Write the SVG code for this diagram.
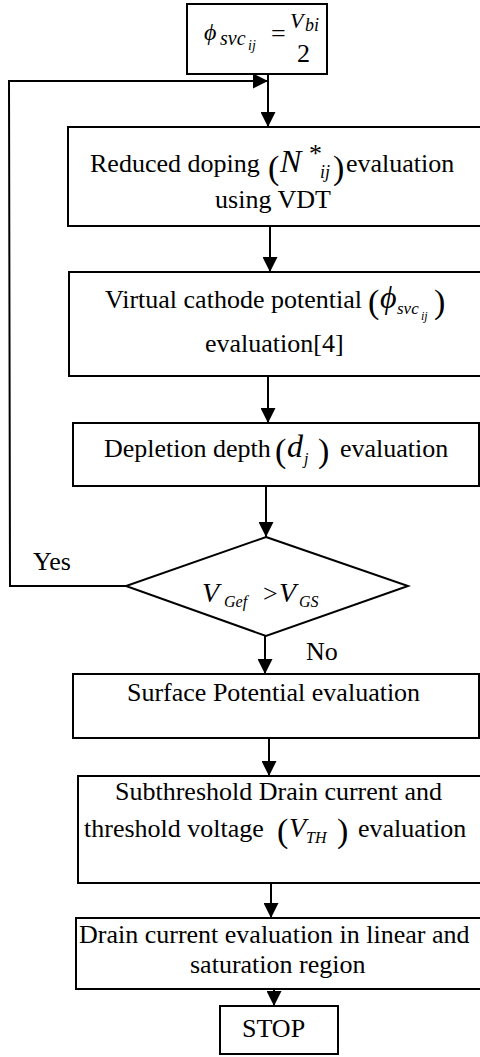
<svg xmlns="http://www.w3.org/2000/svg" width="480" height="1057" viewBox="0 0 480 1057">
<style>
.box{fill:#fff;stroke:#000;stroke-width:2}
.ln{fill:none;stroke:#000;stroke-width:2}
.t{font-family:"Liberation Serif","Times New Roman",serif;font-size:26px;fill:#000}
.i{font-family:"Liberation Serif","Times New Roman",serif;font-style:italic;fill:#000}
.p{font-family:"Liberation Serif","Times New Roman",serif;font-size:34px;fill:#000}
</style>
<defs>
<marker id="ah" viewBox="0 0 10 10" refX="10" refY="5" markerWidth="15" markerHeight="15" markerUnits="userSpaceOnUse" orient="auto">
<path d="M0,0 L10,5 L0,10 z" fill="#000"/>
</marker>
</defs>
<rect width="480" height="1057" fill="#fff"/>
<g id="connectors">
<line class="ln" x1="268" y1="74" x2="268" y2="127" marker-end="url(#ah)"/>
<polyline class="ln" points="126,586 10,586 9,81 268,81" marker-end="url(#ah)"/>
<line class="ln" x1="270" y1="226" x2="270" y2="272" marker-end="url(#ah)"/>
<line class="ln" x1="268" y1="376" x2="268" y2="423" marker-end="url(#ah)"/>
<line class="ln" x1="266" y1="486" x2="266" y2="537" marker-end="url(#ah)"/>
<line class="ln" x1="265" y1="636" x2="265" y2="674" marker-end="url(#ah)"/>
<line class="ln" x1="269" y1="738" x2="269" y2="776" marker-end="url(#ah)"/>
<line class="ln" x1="271" y1="883" x2="271" y2="918" marker-end="url(#ah)"/>
<line class="ln" x1="274" y1="989" x2="274" y2="1006" marker-end="url(#ah)"/>
<text class="t" x="33" y="570">Yes</text>
<text class="t" x="306" y="660">No</text>
</g>
<g id="start">
<rect class="box" x="187" y="4" width="140" height="70"/>
<text class="i" x="204" y="40" font-size="24">ϕ</text>
<text class="i" x="220" y="45" font-size="20">svc</text>
<text class="i" x="248" y="50" font-size="14">ij</text>
<text class="t" x="271" y="42" font-size="24">=</text>
<text class="i" x="290" y="28" font-size="22">V</text>
<text class="i" x="305" y="31" font-size="18">bi</text>
<text class="t" x="297" y="62" font-size="22">2</text>
</g>
<g id="reduced-doping">
<rect class="box" x="68" y="127" width="420" height="99"/>
<text class="t" x="90" y="172">Reduced doping</text>
<text class="p" x="268" y="179">(</text>
<text class="i" x="280" y="172" font-size="32">N</text>
<text class="t" x="309" y="162" font-size="20">*</text>
<text class="i" x="320" y="178" font-size="18">ij</text>
<text class="p" x="333" y="179">)</text>
<text class="t" x="346" y="172">evaluation</text>
<text class="t" x="273" y="208" text-anchor="middle">using VDT</text>
</g>
<g id="virtual-cathode">
<rect class="box" x="69" y="272" width="420" height="104"/>
<text class="t" x="105" y="308">Virtual cathode potential</text>
<text class="p" x="368" y="313">(</text>
<text class="i" x="380" y="308" font-size="32">ϕ</text>
<text class="i" x="397" y="314" font-size="17">svc</text>
<text class="i" x="421" y="320" font-size="12">ij</text>
<text class="p" x="434" y="313">)</text>
<text class="t" x="205" y="352">evaluation[4]</text>
</g>
<g id="depletion-depth">
<rect class="box" x="73" y="423" width="406" height="63"/>
<text class="t" x="104" y="457">Depletion depth</text>
<text class="p" x="275" y="462">(</text>
<text class="i" x="287" y="457" font-size="32">d</text>
<text class="i" x="304" y="464" font-size="16">j</text>
<text class="p" x="318" y="462">)</text>
<text class="t" x="340" y="457">evaluation</text>
</g>
<g id="decision">
<polygon class="box" points="266,537 408,586 266,636 126,586"/>
<text class="i" x="202" y="602" font-size="28">V</text>
<text class="i" x="224" y="607" font-size="16">Gef</text>
<text class="t" x="263" y="602">&gt;</text>
<text class="i" x="279" y="602" font-size="28">V</text>
<text class="i" x="299" y="607" font-size="16">GS</text>
</g>
<g id="surface-potential">
<rect class="box" x="73" y="674" width="406" height="64"/>
<text class="t" x="127" y="701">Surface Potential evaluation</text>
</g>
<g id="subthreshold">
<rect class="box" x="78" y="776" width="410" height="107"/>
<text class="t" x="115" y="800">Subthreshold Drain current and</text>
<text class="t" x="84" y="837">threshold voltage</text>
<text class="p" x="277" y="842">(</text>
<text class="i" x="289" y="837" font-size="28">V</text>
<text class="i" x="306" y="843" font-size="16">TH</text>
<text class="p" x="337" y="842">)</text>
<text class="t" x="358" y="837">evaluation</text>
</g>
<g id="drain-current">
<rect class="box" x="76" y="918" width="412" height="71"/>
<text class="t" x="79" y="943">Drain current evaluation in linear and</text>
<text class="t" x="190" y="973">saturation region</text>
</g>
<g id="stop">
<rect class="box" x="220" y="1006" width="118" height="48"/>
<text class="t" x="242" y="1037" font-size="20">STOP</text>
</g>
</svg>
